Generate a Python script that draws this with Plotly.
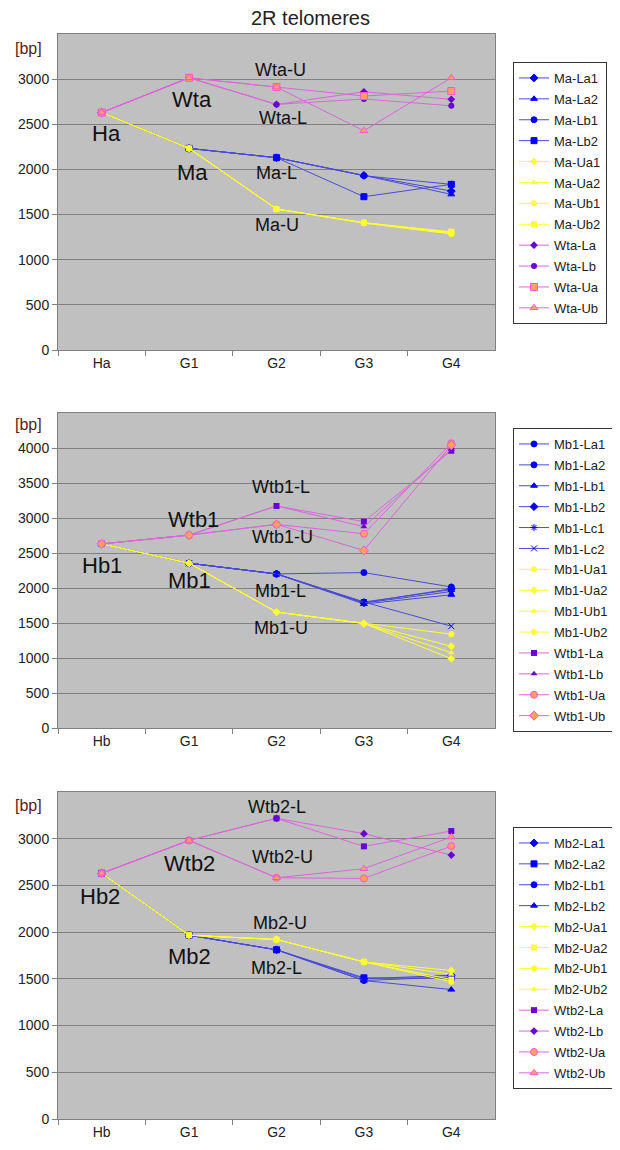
import plotly.graph_objects as go

# ---------------- data ----------------
cats_a = ["Ha", "G1", "G2", "G3", "G4"]
cats_b = ["Hb", "G1", "G2", "G3", "G4"]
yticks_a = [0, 500, 1000, 1500, 2000, 2500, 3000]
yticks_b = [0, 500, 1000, 1500, 2000, 2500, 3000, 3500, 4000]

# Panel 1 (Ma / Wta)
ma_la1 = [2630, 2233, 2130, 1934, 1760]
ma_la2 = [2630, 2233, 2130, 1934, 1724]
ma_lb1 = [2630, 2233, 2130, 1930, 1835]
ma_lb2 = [2630, 2233, 2130, 1698, 1835]
ma_ua1 = [2630, 2233, 1561, 1410, 1300]
ma_ua2 = [2630, 2233, 1561, 1410, 1290]
ma_ub1 = [2630, 2233, 1561, 1405, 1285]
ma_ub2 = [2630, 2233, 1561, 1410, 1310]
wta_la = [2630, 3015, 2720, 2860, 2776]
wta_lb = [2630, 3015, 2720, 2780, 2705]
wta_ua = [2630, 3015, 2912, 2813, 2868]
wta_ub = [2630, 3015, 2912, 2428, 3015]

# Panel 2 (Mb1 / Wtb1)
mb1_la1 = [2630, 2354, 2201, 2220, 2015]
mb1_la2 = [2630, 2354, 2201, 1800, 1976]
mb1_lb1 = [2630, 2354, 2201, 1771, 1904]
mb1_lb2 = [2630, 2354, 2201, 1790, 1990]
mb1_lc1 = [2630, 2354, 2201, 1785, 1950]
mb1_lc2 = [2630, 2354, 2201, 1800, 1455]
mb1_ua1 = [2630, 2354, 1656, 1493, 1340]
mb1_ua2 = [2630, 2354, 1656, 1493, 1168]
mb1_ub1 = [2630, 2354, 1656, 1493, 1076]
mb1_ub2 = [2630, 2354, 1656, 1493, 990]
wtb1_la = [2630, 2756, 3172, 2948, 3961]
wtb1_lb = [2630, 2756, 3172, 2876, 3985]
wtb1_ua = [2630, 2756, 2909, 2775, 4067]
wtb1_ub = [2630, 2756, 2909, 2536, 4040]

# Panel 3 (Mb2 / Wtb2)
mb2_la1 = [2630, 1967, 1811, 1500, 1539]
mb2_la2 = [2630, 1967, 1811, 1511, 1510]
mb2_lb1 = [2630, 1967, 1811, 1482, 1520]
mb2_lb2 = [2630, 1967, 1811, 1482, 1385]
mb2_ua1 = [2630, 1967, 1921, 1682, 1589]
mb2_ua2 = [2630, 1967, 1921, 1682, 1493]
mb2_ub1 = [2630, 1967, 1921, 1682, 1468]
mb2_ub2 = [2630, 1967, 1921, 1682, 1550]
wtb2_la = [2630, 2982, 3218, 2918, 3082]
wtb2_lb = [2630, 2982, 3218, 3054, 2825]
wtb2_ua = [2630, 2982, 2582, 2575, 2921]
wtb2_ub = [2630, 2982, 2582, 2679, 3018]

# ---------------- styles ----------------
BLUE_L, BLUE_M = "#4a4ad8", "#0000ff"
YEL = "#ffff30"
PINK = "#d966d9"
PURP = "#6a00d8"
ORNG = "#ffa060"

def style(kind, sym):
    if kind == "L":
        return dict(line=dict(color=BLUE_L, width=1),
                    marker=dict(color=BLUE_M, symbol=sym, size=6,
                                line=dict(color=BLUE_M, width=1)))
    if kind == "U":
        return dict(line=dict(color=YEL, width=1),
                    marker=dict(color=YEL, symbol=sym, size=6,
                                line=dict(color=YEL, width=0)))
    if kind == "WL":
        return dict(line=dict(color=PINK, width=1),
                    marker=dict(color=PURP, symbol=sym, size=6))
    return dict(line=dict(color=PINK, width=1),
                marker=dict(color=ORNG, symbol=sym, size=7,
                            line=dict(color="#ff55cc", width=1)))

panels = [
    dict(cats=cats_a, ticks=yticks_a, legend="legend", ax="", series=[
        ("Ma-La1", ma_la1, "L", "diamond"), ("Ma-La2", ma_la2, "L", "triangle-up"),
        ("Ma-Lb1", ma_lb1, "L", "circle"), ("Ma-Lb2", ma_lb2, "L", "square"),
        ("Ma-Ua1", ma_ua1, "U", "diamond"), ("Ma-Ua2", ma_ua2, "U", "triangle-up"),
        ("Ma-Ub1", ma_ub1, "U", "circle"), ("Ma-Ub2", ma_ub2, "U", "square"),
        ("Wta-La", wta_la, "WL", "diamond"), ("Wta-Lb", wta_lb, "WL", "circle"),
        ("Wta-Ua", wta_ua, "WU", "square"), ("Wta-Ub", wta_ub, "WU", "triangle-up"),
    ]),
    dict(cats=cats_b, ticks=yticks_b, legend="legend2", ax="2", series=[
        ("Mb1-La1", mb1_la1, "L", "circle"), ("Mb1-La2", mb1_la2, "L", "circle"),
        ("Mb1-Lb1", mb1_lb1, "L", "triangle-up"), ("Mb1-Lb2", mb1_lb2, "L", "diamond"),
        ("Mb1-Lc1", mb1_lc1, "L", "asterisk"), ("Mb1-Lc2", mb1_lc2, "L", "x-thin"),
        ("Mb1-Ua1", mb1_ua1, "U", "circle"), ("Mb1-Ua2", mb1_ua2, "U", "diamond"),
        ("Mb1-Ub1", mb1_ub1, "U", "triangle-up"), ("Mb1-Ub2", mb1_ub2, "U", "diamond"),
        ("Wtb1-La", wtb1_la, "WL", "square"), ("Wtb1-Lb", wtb1_lb, "WL", "triangle-up"),
        ("Wtb1-Ua", wtb1_ua, "WU", "circle"), ("Wtb1-Ub", wtb1_ub, "WU", "diamond"),
    ]),
    dict(cats=cats_b, ticks=yticks_a, legend="legend3", ax="3", series=[
        ("Mb2-La1", mb2_la1, "L", "diamond"), ("Mb2-La2", mb2_la2, "L", "square"),
        ("Mb2-Lb1", mb2_lb1, "L", "circle"), ("Mb2-Lb2", mb2_lb2, "L", "triangle-up"),
        ("Mb2-Ua1", mb2_ua1, "U", "diamond"), ("Mb2-Ua2", mb2_ua2, "U", "square"),
        ("Mb2-Ub1", mb2_ub1, "U", "circle"), ("Mb2-Ub2", mb2_ub2, "U", "triangle-up"),
        ("Wtb2-La", wtb2_la, "WL", "square"), ("Wtb2-Lb", wtb2_lb, "WL", "diamond"),
        ("Wtb2-Ua", wtb2_ua, "WU", "circle"), ("Wtb2-Ub", wtb2_ub, "WU", "triangle-up"),
    ]),
]

fig = go.Figure()
for p in panels:
    for name, vals, kind, sym in p["series"]:
        fig.add_trace(go.Scatter(
            x=p["cats"], y=vals, name=name, mode="lines+markers",
            xaxis="x" + p["ax"], yaxis="y" + p["ax"], legend=p["legend"],
            legendgroup=name, **style(kind, sym)))

FONT = "Liberation Sans, Arial, sans-serif"
OFF = 8                     # page body margin
W, H = 620 - OFF, 1150 - OFF

def px(xp):
    return (xp - OFF) / W

def py(yp):
    return 1 - (yp - OFF) / H

xl, xr = px(58), px(495)
doms = [(py(350), py(34)), (py(728), py(413)), (py(1119), py(792))]
yranges = [[0, 3500], [0, 4500], [0, 3500]]

layout = dict(
    width=W, height=H, autosize=False,
    margin=dict(l=0, r=0, t=0, b=0, autoexpand=False),
    paper_bgcolor="white", plot_bgcolor="#c0c0c0",
    font=dict(family=FONT, size=14, color="#222"),
    showlegend=True,
)
for i, p in enumerate(panels):
    s = p["ax"]
    layout["xaxis" + s] = dict(
        domain=[xl, xr], anchor="y" + s, type="category", automargin=False,
        categoryorder="array", categoryarray=p["cats"], range=[-0.5, 4.5],
        tickson="boundaries", ticks="outside", ticklen=5, tickcolor="#808080",
        showgrid=False, showline=True, linecolor="#808080", mirror=True,
        tickfont=dict(size=14, family=FONT, color="#222"), zeroline=False)
    layout["yaxis" + s] = dict(
        domain=list(doms[i]), anchor="x" + s, range=yranges[i], automargin=False,
        tickmode="array", tickvals=p["ticks"],
        ticks="outside", ticklen=5, tickcolor="#808080",
        showgrid=True, gridcolor="#808080", gridwidth=1,
        showline=True, linecolor="#808080", mirror=True, zeroline=False,
        tickfont=dict(size=14, family=FONT, color="#222"))

leg_common = dict(bgcolor="white", bordercolor="#333", borderwidth=1,
                  font=dict(size=13, family=FONT, color="#222"),
                  xanchor="left", yanchor="top", itemwidth=30, tracegroupgap=1)
layout["legend"] = dict(x=px(513), y=py(62), **leg_common)
layout["legend2"] = dict(x=px(513), y=py(428), **leg_common)
layout["legend3"] = dict(x=px(513), y=py(827), **leg_common)
fig.update_layout(**layout)

anns = []
def lab(text, x, y, ax, size):
    anns.append(dict(text=text, x=x, y=y, xref="x" + ax, yref="y" + ax,
                     xanchor="center", yanchor="middle", showarrow=False,
                     font=dict(size=size, family=FONT, color="#111")))

# panel 1 labels
lab("Wta-U", 2.04, 3100, "", 18); lab("Wta", 1.03, 2780, "", 22)
lab("Wta-L", 2.08, 2570, "", 18); lab("Ha", 0.06, 2400, "", 22)
lab("Ma", 1.04, 1971, "", 22); lab("Ma-L", 2.0, 1960, "", 18)
lab("Ma-U", 2.0, 1384, "", 18)
# panel 2 labels
lab("Wtb1-L", 2.05, 3440, "2", 18); lab("Wtb1", 1.05, 2981, "2", 22)
lab("Wtb1-U", 2.07, 2722, "2", 18); lab("Hb1", 0.0, 2320, "2", 22)
lab("Mb1", 1.0, 2105, "2", 22); lab("Mb1-L", 2.04, 1962, "2", 18)
lab("Mb1-U", 2.05, 1431, "2", 18)
# panel 3 labels
lab("Hb2", -0.02, 2382, "3", 22); lab("Wtb2", 1.0, 2735, "3", 22)
lab("Mb2", 1.0, 1739, "3", 22); lab("Wtb2-L", 2.0, 3335, "3", 18)
lab("Wtb2-U", 2.07, 2800, "3", 18); lab("Mb2-U", 2.04, 2103, "3", 18)
lab("Mb2-L", 2.0, 1621, "3", 18)

for ypx in (48, 425, 805):
    anns.append(dict(text="[bp]", x=px(28), y=py(ypx), xref="paper", yref="paper",
                     xanchor="center", yanchor="middle", showarrow=False,
                     font=dict(size=16, family=FONT, color="#5a1a1a")))
anns.append(dict(text="2R telomeres", x=px(310), y=py(18), xref="paper", yref="paper",
                 xanchor="center", yanchor="middle", showarrow=False,
                 font=dict(size=20, family=FONT, color="#222")))
fig.update_layout(annotations=anns)

fig.write_html("out.html")
